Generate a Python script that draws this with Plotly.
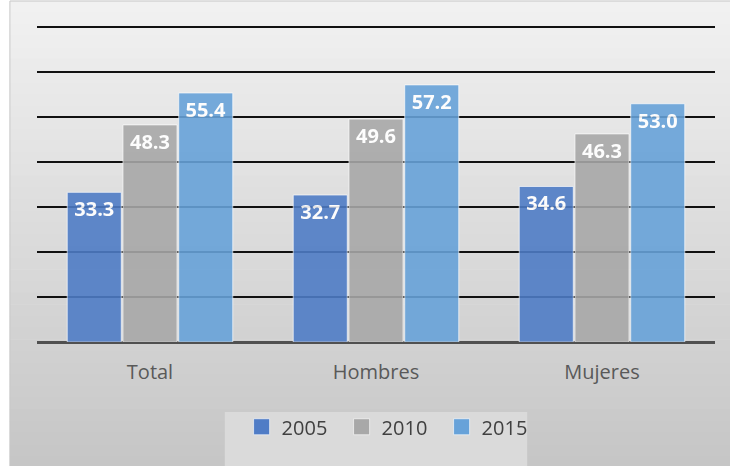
import plotly.graph_objects as go

categories = ["Total", "Hombres", "Mujeres"]
years = ["2005", "2010", "2015"]
values_2005 = [33.3, 32.7, 34.6]
values_2010 = [48.3, 49.6, 46.3]
values_2015 = [55.4, 57.2, 53.0]

series = [values_2005, values_2010, values_2015]
colors = ["#4f7cc6", "#a8a8a8", "#67a2d9"]

fig = go.Figure()

for name, vals, col in zip(years, series, colors):
  fig.add_trace(go.Bar(
      x = categories,
      y = vals,
      name = name,
      text = [f"{v:.1f}" for v in vals],
      textposition = "inside",
      insidetextanchor = "end",
      textfont = dict(color = "white", size = 20, family = "Open Sans"),
      texttemplate = "<b>%{text}</b>",
      marker = dict(color = col, line = dict(color = "rgba(255,255,255,0.7)", width = 1)),
      opacity = 0.9,
      showlegend = False
  ))

# legend entries with bigger square symbols
for name, col in zip(years, colors):
  fig.add_trace(go.Scatter(
      x = [None], y = [None], mode = "markers", name = name,
      marker = dict(symbol = "square", size = 16, color = col,
                    line = dict(color = "rgba(255,255,255,0.6)", width = 1))
  ))

# grey gradient background (chart area), built from thin bands
x0, x1 = -0.04, 1.03
y_top, y_bot = 1.079, -0.40
n = 40
for i in range(n):
  t = i / (n - 1)
  g = int(round(0xf1 - t * (0xf1 - 0xc6)))
  ya = y_top - (y_top - y_bot) * i / n
  yb = y_top - (y_top - y_bot) * (i + 1) / n
  fig.add_shape(type = "rect", xref = "paper", yref = "paper",
                x0 = x0, x1 = x1, y0 = yb, y1 = ya + 0.002,
                fillcolor = f"rgb({g},{g},{g})", line_width = 0, layer = "below")

fig.add_shape(type = "rect", xref = "paper", yref = "paper",
              x0 = x0, x1 = x1, y0 = y_bot - 0.05, y1 = y_top,
              fillcolor = "rgba(0,0,0,0)", line = dict(color = "#c8c8c8", width = 1), layer = "below")

# legend box
fig.add_shape(type = "rect", xref = "paper", yref = "paper",
              x0 = 0.277, x1 = 0.723, y0 = -0.42, y1 = -0.2215,
              fillcolor = "#dadada", line_width = 0, layer = "below")

fig.update_layout(
    width = 730, height = 466,
    margin = dict(l = 37, r = 15, t = 26, b = 124),
    paper_bgcolor = "white",
    plot_bgcolor = "rgba(0,0,0,0)",
    barmode = "group",
    bargap = 0.26,
    bargroupgap = 0.03,
    showlegend = True,
    legend = dict(orientation = "h", x = 0.523, xanchor = "center", y = -0.2065, yanchor = "top",
                  bgcolor = "rgba(0,0,0,0)", font = dict(size = 20, color = "#404040", family = "Open Sans"),
                  entrywidth = 55, entrywidthmode = "pixels"),
    font = dict(family = "Open Sans")
)

fig.update_xaxes(showgrid = False, showline = False, ticks = "", ticklabelstandoff = 16,
                 tickfont = dict(size = 20, color = "#595959", family = "Open Sans"))
fig.update_yaxes(range = [0, 70.3], dtick = 10, showticklabels = False,
                 showgrid = True, gridcolor = "#111111", gridwidth = 2,
                 zeroline = True, zerolinecolor = "#505050", zerolinewidth = 3)

fig.write_html("out.html", config = {"displayModeBar": False},
               post_script = "document.body.style.margin = '0'; document.body.style.overflow = 'hidden';")
